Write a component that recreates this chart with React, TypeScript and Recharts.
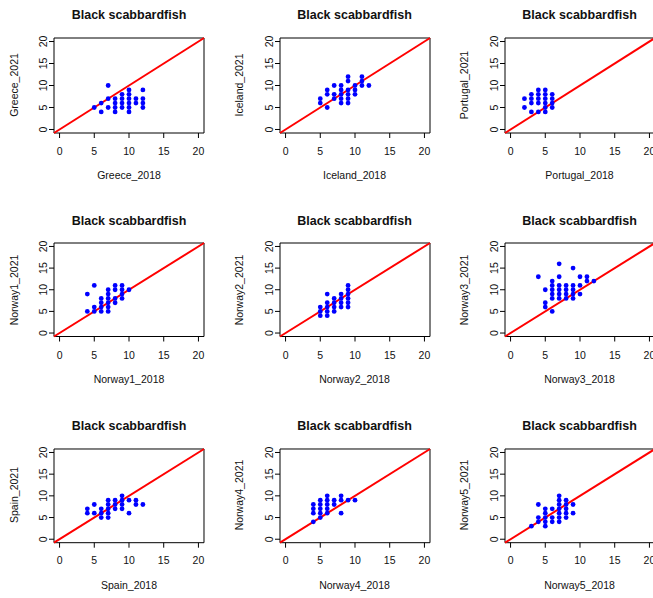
import React from "react";
import {
  ReferenceArea,
  ReferenceLine,
  Scatter,
  ScatterChart,
  XAxis,
  YAxis,
} from "recharts";

const speciesTitle = "Black scabbardfish";
const axisTicks = [0, 5, 10, 15, 20];
const axisDomain: [number, number] = [-0.8, 20.8];

const greece2018 = [5, 6, 6, 7, 7, 7, 8, 8, 8, 8, 9, 9, 9, 9, 10, 10, 10, 10, 10, 10, 11, 11, 12, 12, 12, 12];
const greece2021 = [5, 4, 6, 10, 7, 5, 7, 6, 5, 4, 8, 7, 6, 5, 9, 8, 7, 6, 5, 4, 7, 6, 9, 7, 6, 5];

const iceland2018 = [5, 5, 6, 6, 6, 7, 7, 7, 8, 8, 8, 8, 8, 9, 9, 9, 9, 9, 9, 10, 10, 10, 11, 11, 11, 12];
const iceland2021 = [7, 6, 9, 8, 5, 10, 8, 7, 10, 9, 8, 7, 6, 12, 11, 9, 8, 7, 6, 10, 9, 8, 12, 11, 10, 10];

const portugal2018 = [2, 2, 3, 3, 3, 3, 4, 4, 4, 4, 4, 5, 5, 5, 5, 5, 5, 6, 6, 6, 6];
const portugal2021 = [7, 5, 8, 7, 6, 4, 9, 8, 7, 6, 4, 9, 8, 7, 6, 5, 4, 8, 7, 6, 5];

const norway1_2018 = [4, 4, 5, 5, 5, 6, 6, 6, 6, 7, 7, 7, 7, 7, 7, 8, 8, 8, 8, 9, 9, 9, 9, 10];
const norway1_2021 = [9, 5, 11, 6, 5, 8, 7, 6, 5, 10, 9, 8, 7, 6, 5, 11, 10, 8, 7, 11, 10, 9, 8, 10];

const norway2_2018 = [5, 5, 5, 6, 6, 6, 6, 6, 7, 7, 7, 7, 8, 8, 8, 8, 9, 9, 9, 9, 9, 9];
const norway2_2021 = [6, 5, 4, 9, 7, 6, 5, 4, 8, 7, 6, 5, 9, 8, 7, 6, 11, 10, 9, 8, 7, 6];

const norway3_2018 = [4, 5, 5, 5, 6, 6, 6, 6, 6, 6, 7, 7, 7, 7, 7, 7, 8, 8, 8, 8, 9, 9, 9, 9, 9, 10, 10, 10, 11, 11, 12];
const norway3_2021 = [13, 10, 7, 6, 12, 11, 10, 9, 8, 5, 16, 13, 11, 10, 9, 8, 11, 10, 9, 8, 15, 11, 10, 9, 8, 13, 11, 9, 13, 12, 12];

const spain2018 = [4, 4, 5, 5, 6, 6, 6, 7, 7, 7, 7, 7, 8, 8, 8, 9, 9, 9, 9, 10, 10, 11, 11, 12];
const spain2021 = [7, 6, 8, 6, 7, 6, 5, 9, 8, 7, 6, 5, 9, 8, 7, 10, 9, 8, 7, 9, 6, 9, 8, 8];

const norway4_2018 = [4, 4, 4, 4, 5, 5, 5, 5, 5, 6, 6, 6, 6, 6, 7, 7, 8, 8, 8, 9, 10];
const norway4_2021 = [8, 7, 6, 4, 9, 8, 7, 6, 5, 10, 9, 8, 7, 6, 9, 8, 10, 9, 6, 9, 9];

const norway5_2018 = [3, 4, 4, 4, 5, 5, 5, 5, 5, 6, 6, 6, 7, 7, 7, 7, 7, 7, 7, 8, 8, 8, 8, 8, 9, 9];
const norway5_2021 = [3, 8, 5, 4, 7, 6, 5, 4, 3, 7, 5, 4, 10, 9, 8, 7, 6, 5, 4, 9, 8, 7, 6, 5, 8, 6];

const panels = [
  { name: "Greece", before: greece2018, after: greece2021 },
  { name: "Iceland", before: iceland2018, after: iceland2021 },
  { name: "Portugal", before: portugal2018, after: portugal2021 },
  { name: "Norway1", before: norway1_2018, after: norway1_2021 },
  { name: "Norway2", before: norway2_2018, after: norway2_2021 },
  { name: "Norway3", before: norway3_2018, after: norway3_2021 },
  { name: "Spain", before: spain2018, after: spain2021 },
  { name: "Norway4", before: norway4_2018, after: norway4_2021 },
  { name: "Norway5", before: norway5_2018, after: norway5_2021 },
];

// plot box geometry (px) per column / row
const boxLeft = [54, 279.5, 504.5];
const boxTop = [37.5, 243.3, 448.6];
const boxH = [95, 93.5, 93.7];
const boxW = 150;

const font = '"Liberation Sans", Arial, sans-serif';
const yAxisW = 30;
const topPad = 10;

const XTick = (props: any) => {
  const { x, y, payload } = props;
  return (
    <text x={x} y={y} textAnchor="middle" dominantBaseline="central" fontSize={10.5} fontFamily={font} fill="#111">
      {payload.value}
    </text>
  );
};

const YTick = (props: any) => {
  const { x, y, payload } = props;
  return (
    <text
      x={x}
      y={y}
      transform={`rotate(-90 ${x} ${y})`}
      textAnchor="middle"
      dominantBaseline="central"
      fontSize={10.5}
      fontFamily={font}
      fill="#111"
    >
      {payload.value}
    </text>
  );
};

const Dot = (props: any) => <circle cx={props.cx} cy={props.cy} r={2.4} fill="#0000ff" />;

function Panel({ idx }: { idx: number }) {
  const p = panels[idx];
  const col = idx % 3;
  const row = Math.floor(idx / 3);
  const left = boxLeft[col];
  const top = boxTop[row];
  const h = boxH[row];
  const data = p.before.map((v, i) => ({ x: v, y: p.after[i] }));

  const centered: React.CSSProperties = {
    position: "absolute",
    transform: "translate(-50%, -50%)",
    whiteSpace: "nowrap",
    lineHeight: 1,
    fontFamily: font,
    color: "#111",
  };

  return (
    <>
      <div style={{ ...centered, left: left + boxW / 2, top: top - 22.5, fontSize: 12.5, fontWeight: "bold" }}>
        {speciesTitle}
      </div>
      <div style={{ ...centered, left: left + boxW / 2, top: top + h + 42.5, fontSize: 10.5 }}>
        {p.name}_2018
      </div>
      <div
        style={{
          ...centered,
          left: left - 40.5,
          top: top + h / 2,
          fontSize: 10.5,
          transform: "translate(-50%, -50%) rotate(-90deg)",
        }}
      >
        {p.name}_2021
      </div>
      <div style={{ position: "absolute", left: left - yAxisW, top: top - topPad }}>
        <ScatterChart
          width={yAxisW + boxW + 10}
          height={topPad + h + 30}
          margin={{ top: topPad, right: 10, bottom: 0, left: 0 }}
        >
          <XAxis
            type="number"
            dataKey="x"
            domain={axisDomain}
            ticks={axisTicks}
            interval={0}
            allowDataOverflow
            axisLine={false}
            tickLine={{ stroke: "#000" }}
            tickSize={5}
            tickMargin={13}
            height={30}
            tick={<XTick />}
          />
          <YAxis
            type="number"
            dataKey="y"
            domain={axisDomain}
            ticks={axisTicks}
            interval={0}
            allowDataOverflow
            axisLine={false}
            tickLine={{ stroke: "#000" }}
            tickSize={5}
            tickMargin={6}
            width={yAxisW}
            tick={<YTick />}
          />
          <ReferenceArea
            x1={axisDomain[0]}
            x2={axisDomain[1]}
            y1={axisDomain[0]}
            y2={axisDomain[1]}
            fill="none"
            stroke="#000"
            strokeWidth={1}
          />
          <Scatter data={data} shape={<Dot />} isAnimationActive={false} />
          <ReferenceLine
            segment={[
              { x: axisDomain[0], y: axisDomain[0] },
              { x: axisDomain[1], y: axisDomain[1] },
            ]}
            stroke="#ff0000"
            strokeWidth={2}
          />
        </ScatterChart>
      </div>
    </>
  );
}

export default function App() {
  return (
    <div
      style={{
        position: "absolute",
        left: 0,
        top: 0,
        width: 653,
        height: 598,
        overflow: "hidden",
        background: "#fff",
      }}
    >
      {panels.map((p, i) => (
        <Panel key={p.name} idx={i} />
      ))}
    </div>
  );
}
